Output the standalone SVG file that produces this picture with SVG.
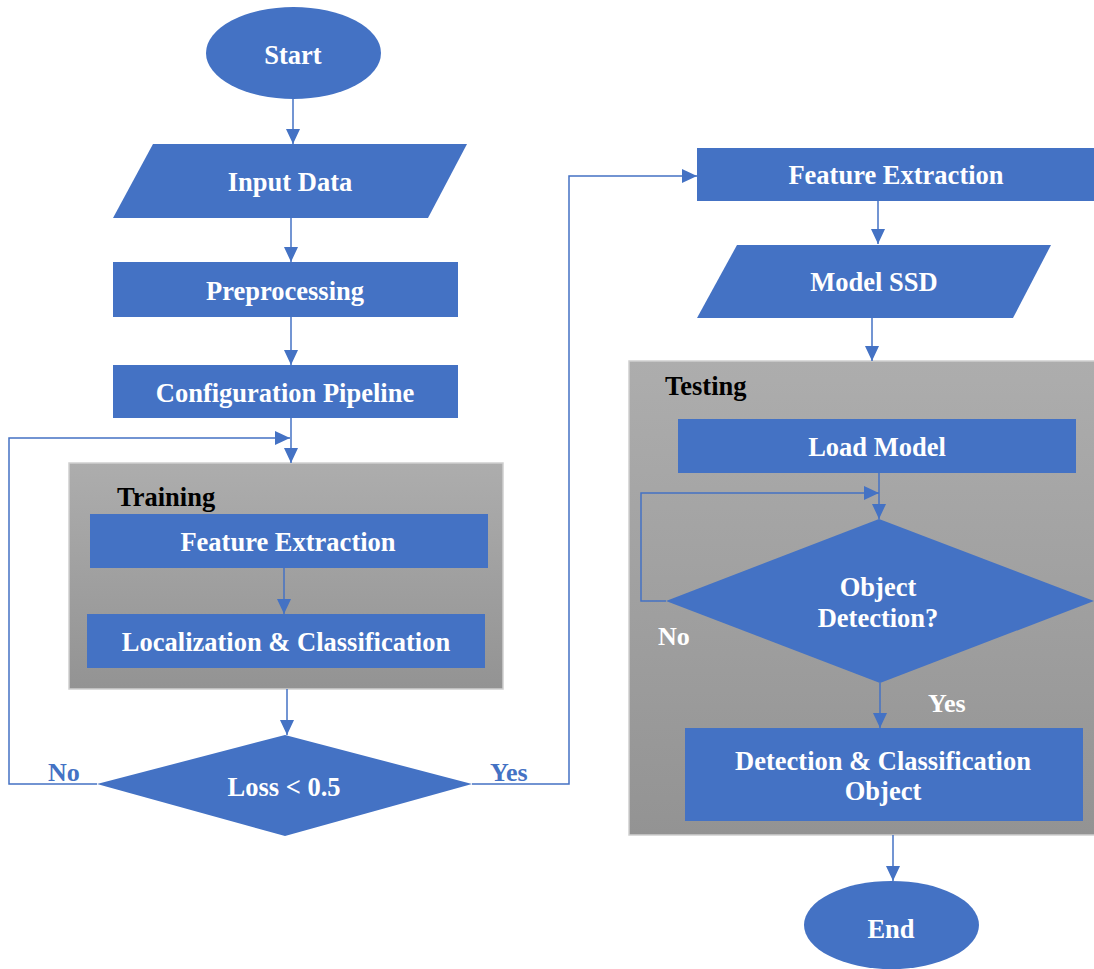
<svg xmlns="http://www.w3.org/2000/svg" width="1094" height="969" viewBox="0 0 1094 969">
<style>
.n{fill:#4472C4}
.t{font-family:"Liberation Serif","Times New Roman",serif;font-weight:bold;font-size:26.5px;fill:#fff;text-anchor:middle}
.h{font-family:"Liberation Serif","Times New Roman",serif;font-weight:bold;font-size:26.5px;fill:#000}
.lb{font-family:"Liberation Serif","Times New Roman",serif;font-weight:bold;font-size:26px;fill:#4472C4}
.lw{font-family:"Liberation Serif","Times New Roman",serif;font-weight:bold;font-size:26px;fill:#fff}
.c{fill:none;stroke:#4472C4;stroke-width:1.5}
.g{fill:url(#gr);stroke:#cfcfcf;stroke-width:1.5}
</style>
<defs>
<linearGradient id="gr" x1="0" y1="0" x2="0" y2="1">
<stop offset="0" stop-color="#adadad"/>
<stop offset="1" stop-color="#939393"/>
</linearGradient>
<marker id="a" markerUnits="userSpaceOnUse" markerWidth="16" markerHeight="14" refX="15" refY="7" orient="auto">
<path d="M0,0 L15,7 L0,14 Z" fill="#4472C4"/>
</marker>
</defs>

<g id="training-group">
<rect class="g" x="69" y="463" width="434" height="226"/>
<text class="h" x="117" y="506">Training</text>
</g>
<g id="testing-group">
<rect class="g" x="629" y="361" width="470" height="474"/>
<text class="h" x="665" y="395">Testing</text>
</g>

<g id="start"><ellipse class="n" cx="293.5" cy="53" rx="87.5" ry="46"/><text class="t" x="293" y="64">Start</text></g>
<g id="input-data"><polygon class="n" points="153,144 467,144 428,218 113,218"/><text class="t" x="290" y="191">Input Data</text></g>
<g id="preprocessing"><rect class="n" x="113" y="262" width="345" height="55"/><text class="t" x="285" y="300">Preprocessing</text></g>
<g id="config"><rect class="n" x="113" y="365" width="345" height="53"/><text class="t" x="285" y="402">Configuration Pipeline</text></g>
<g id="fe-train"><rect class="n" x="90" y="514" width="398" height="54"/><text class="t" x="288" y="551">Feature Extraction</text></g>
<g id="loc-class"><rect class="n" x="87" y="614" width="398" height="54"/><text class="t" x="286" y="651">Localization &amp; Classification</text></g>
<g id="loss"><polygon class="n" points="285,735 472,784 285,836 97,784"/><text class="t" x="284" y="796">Loss &lt; 0.5</text></g>

<g id="fe-right"><rect class="n" x="697" y="148" width="397" height="53"/><text class="t" x="896" y="184">Feature Extraction</text></g>
<g id="model-ssd"><polygon class="n" points="737,245 1051,245 1013,318 697,318"/><text class="t" x="874" y="291">Model SSD</text></g>
<g id="load-model"><rect class="n" x="678" y="419" width="398" height="54"/><text class="t" x="877" y="456">Load Model</text></g>
<g id="object-detection"><polygon class="n" points="879,519 1094,601 880,683 666,601"/><text class="t" x="878" y="596">Object</text><text class="t" x="878" y="627">Detection?</text></g>
<g id="det-class"><rect class="n" x="685" y="728" width="398" height="93"/><text class="t" x="883" y="770">Detection &amp; Classification</text><text class="t" x="883" y="800">Object</text></g>
<g id="end"><ellipse class="n" cx="891.5" cy="925" rx="87.5" ry="44"/><text class="t" x="891" y="938">End</text></g>

<g id="connectors">
<line class="c" x1="293" y1="99" x2="293" y2="144" marker-end="url(#a)"/>
<line class="c" x1="291" y1="218" x2="291" y2="262" marker-end="url(#a)"/>
<line class="c" x1="291" y1="317" x2="291" y2="365" marker-end="url(#a)"/>
<line class="c" x1="291" y1="418" x2="291" y2="463" marker-end="url(#a)"/>
<polyline class="c" points="97,784 9,784 9,438 290,438" marker-end="url(#a)"/>
<line class="c" x1="284" y1="568" x2="284" y2="614" marker-end="url(#a)"/>
<line class="c" x1="287" y1="689" x2="287" y2="735" marker-end="url(#a)"/>
<polyline class="c" points="472,784 569,784 569,176 697,176" marker-end="url(#a)"/>
<line class="c" x1="878" y1="201" x2="878" y2="244" marker-end="url(#a)"/>
<line class="c" x1="872" y1="318" x2="872" y2="361" marker-end="url(#a)"/>
<line class="c" x1="879" y1="473" x2="879" y2="519" marker-end="url(#a)"/>
<polyline class="c" points="666,601 641,601 641,493 879,493" marker-end="url(#a)"/>
<line class="c" x1="880" y1="683" x2="880" y2="728" marker-end="url(#a)"/>
<line class="c" x1="893" y1="835" x2="893" y2="881" marker-end="url(#a)"/>
</g>

<g id="labels">
<text class="lb" x="48" y="781">No</text>
<text class="lb" x="490" y="781">Yes</text>
<text class="lw" x="658" y="645">No</text>
<text class="lw" x="928" y="712">Yes</text>
</g>
</svg>
